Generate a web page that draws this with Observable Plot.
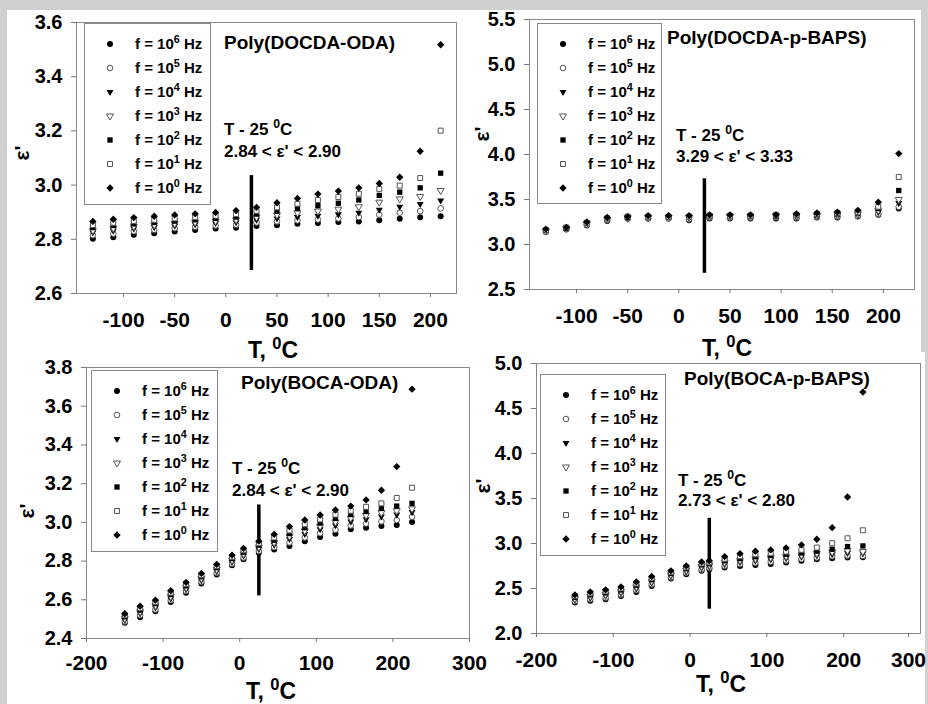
<!DOCTYPE html>
<html>
<head>
<meta charset="utf-8">
<script src="https://cdn.jsdelivr.net/npm/d3@7"></script>
<script src="https://cdn.jsdelivr.net/npm/@observablehq/plot@0.6"></script>
<style>
  body { margin: 0; }
  #root { position: relative; width: 928px; height: 704px; background: #d0d0d0; overflow: hidden;
          font-family: "Liberation Sans", Arial, sans-serif; font-weight: bold; color: #000; }
  .abs { position: absolute; white-space: nowrap; line-height: 1; }
  .legend { position: absolute; border: 1px solid #888; background: #fff; box-sizing: border-box; }
  .legend .row { position: absolute; font-size: 15px; line-height: 1; white-space: nowrap; }
  sup { font-size: 0.72em; vertical-align: 0; position: relative; top: -0.55em; }
  svg text { font-weight: bold; }
</style>
</head>
<body>
<div id="root">
  <div style="position:absolute;left:7px;top:10px;width:914px;height:342px;background:#fff"></div>
  <div style="position:absolute;left:7px;top:352px;width:918px;height:352px;background:#fff"></div>
</div>
<script>
// ---------------- DATA ----------------
const freqExp = [6, 5, 4, 3, 2, 1, 0];

// Panel 1: Poly(DOCDA-ODA)
const p1_title = "Poly(DOCDA-ODA)";
const p1_range = "2.84 < ε' < 2.90";
const p1_T = [-130, -110, -90, -70, -50, -30, -10, 10, 30, 50, 70, 90, 110, 130, 150, 170, 190, 210];
const p1_f6 = [2.802, 2.808, 2.817, 2.822, 2.829, 2.834, 2.840, 2.843, 2.849, 2.852, 2.857, 2.860, 2.864, 2.866, 2.870, 2.876, 2.881, 2.885];
const p1_f5 = [2.815, 2.821, 2.830, 2.835, 2.841, 2.846, 2.851, 2.854, 2.862, 2.866, 2.870, 2.873, 2.877, 2.882, 2.891, 2.898, 2.904, 2.914];
const p1_f4 = [2.825, 2.832, 2.840, 2.845, 2.850, 2.855, 2.860, 2.863, 2.872, 2.877, 2.882, 2.887, 2.892, 2.898, 2.909, 2.920, 2.930, 2.943];
const p1_f3 = [2.833, 2.841, 2.848, 2.853, 2.858, 2.863, 2.868, 2.872, 2.882, 2.890, 2.897, 2.904, 2.911, 2.920, 2.937, 2.949, 2.958, 2.980];
const p1_f2 = [2.843, 2.851, 2.857, 2.862, 2.867, 2.872, 2.877, 2.882, 2.893, 2.904, 2.914, 2.924, 2.933, 2.945, 2.962, 2.974, 2.990, 3.044];
const p1_f1 = [2.853, 2.861, 2.867, 2.872, 2.877, 2.882, 2.887, 2.893, 2.905, 2.918, 2.931, 2.945, 2.956, 2.968, 2.986, 2.998, 3.026, 3.201];
const p1_f0 = [2.866, 2.874, 2.880, 2.885, 2.890, 2.894, 2.899, 2.906, 2.918, 2.935, 2.951, 2.967, 2.978, 2.990, 3.006, 3.029, 3.125, 3.518];
const p1_rule = [25, 2.685, 3.035];
const p1_xTicks = [-100, -50, 0, 50, 100, 150, 200];
const p1_yTicks = [2.6, 2.8, 3.0, 3.2, 3.4, 3.6];

// Panel 2: Poly(DOCDA-p-BAPS)
const p2_title = "Poly(DOCDA-p-BAPS)";
const p2_range = "3.29 < ε' < 3.33";
const p2_T = [-130, -110, -90, -70, -50, -30, -10, 10, 30, 50, 70, 95, 115, 135, 155, 175, 195, 215];
const p2_f6 = [3.14, 3.17, 3.21, 3.26, 3.29, 3.29, 3.29, 3.27, 3.29, 3.29, 3.29, 3.29, 3.29, 3.30, 3.30, 3.31, 3.33, 3.40];
const p2_f5 = [3.14, 3.17, 3.22, 3.27, 3.29, 3.29, 3.29, 3.28, 3.30, 3.30, 3.30, 3.30, 3.30, 3.31, 3.31, 3.32, 3.34, 3.42];
const p2_f4 = [3.15, 3.18, 3.23, 3.28, 3.29, 3.30, 3.30, 3.30, 3.31, 3.31, 3.31, 3.31, 3.31, 3.32, 3.32, 3.33, 3.36, 3.46];
const p2_f3 = [3.15, 3.18, 3.23, 3.28, 3.30, 3.30, 3.30, 3.30, 3.31, 3.31, 3.31, 3.32, 3.32, 3.32, 3.33, 3.34, 3.38, 3.50];
const p2_f2 = [3.16, 3.18, 3.24, 3.29, 3.30, 3.31, 3.31, 3.31, 3.32, 3.32, 3.32, 3.32, 3.33, 3.33, 3.34, 3.35, 3.40, 3.60];
const p2_f1 = [3.16, 3.19, 3.24, 3.29, 3.31, 3.31, 3.31, 3.31, 3.32, 3.32, 3.32, 3.33, 3.33, 3.34, 3.35, 3.36, 3.42, 3.75];
const p2_f0 = [3.17, 3.19, 3.25, 3.30, 3.31, 3.32, 3.32, 3.32, 3.33, 3.33, 3.33, 3.33, 3.34, 3.35, 3.36, 3.38, 3.47, 4.01];
const p2_rule = [25, 2.68, 3.73];
const p2_xTicks = [-100, -50, 0, 50, 100, 150, 200];
const p2_yTicks = [2.5, 3.0, 3.5, 4.0, 4.5, 5.0, 5.5];

// Panel 3: Poly(BOCA-ODA)
const p3_title = "Poly(BOCA-ODA)";
const p3_range = "2.84 < ε' < 2.90";
const p3_T = [-150, -130, -110, -90, -70, -50, -30, -10, 5, 25, 45, 65, 85, 105, 125, 145, 165, 185, 205, 225];
const p3_f6 = [2.481, 2.510, 2.541, 2.588, 2.636, 2.684, 2.731, 2.778, 2.809, 2.843, 2.860, 2.878, 2.903, 2.924, 2.941, 2.964, 2.972, 2.981, 2.986, 3.002];
const p3_f5 = [2.488, 2.520, 2.550, 2.598, 2.645, 2.693, 2.740, 2.786, 2.818, 2.852, 2.872, 2.896, 2.922, 2.944, 2.962, 2.984, 2.994, 3.005, 3.012, 3.029];
const p3_f4 = [2.496, 2.529, 2.560, 2.607, 2.654, 2.701, 2.748, 2.795, 2.828, 2.862, 2.884, 2.914, 2.940, 2.964, 2.985, 3.004, 3.016, 3.030, 3.040, 3.053];
const p3_f3 = [2.504, 2.538, 2.570, 2.617, 2.663, 2.710, 2.757, 2.804, 2.837, 2.872, 2.896, 2.928, 2.956, 2.980, 3.002, 3.022, 3.036, 3.050, 3.060, 3.070];
const p3_f2 = [2.512, 2.547, 2.580, 2.627, 2.672, 2.719, 2.766, 2.813, 2.846, 2.882, 2.908, 2.942, 2.972, 2.996, 3.020, 3.040, 3.056, 3.072, 3.084, 3.098];
const p3_f1 = [2.520, 2.557, 2.589, 2.637, 2.681, 2.727, 2.774, 2.822, 2.856, 2.892, 2.922, 2.958, 2.990, 3.015, 3.040, 3.060, 3.080, 3.098, 3.126, 3.179];
const p3_f0 = [2.528, 2.567, 2.598, 2.647, 2.690, 2.736, 2.783, 2.831, 2.866, 2.903, 2.938, 2.978, 3.012, 3.038, 3.064, 3.084, 3.116, 3.166, 3.288, 3.688];
const p3_rule = [25, 2.62, 3.09];
const p3_xTicks = [-200, -100, 0, 100, 200, 300];
const p3_yTicks = [2.4, 2.6, 2.8, 3.0, 3.2, 3.4, 3.6, 3.8];

// Panel 4: Poly(BOCA-p-BAPS)
const p4_title = "Poly(BOCA-p-BAPS)";
const p4_range = "2.73 < ε' < 2.80";
const p4_T = [-150, -130, -110, -90, -70, -50, -25, -5, 15, 25, 45, 65, 85, 105, 125, 145, 165, 185, 205, 225];
const p4_f6 = [2.344, 2.363, 2.381, 2.418, 2.462, 2.529, 2.610, 2.659, 2.696, 2.714, 2.733, 2.751, 2.762, 2.773, 2.788, 2.807, 2.825, 2.836, 2.844, 2.847];
const p4_f5 = [2.358, 2.380, 2.398, 2.434, 2.481, 2.546, 2.624, 2.675, 2.712, 2.730, 2.752, 2.771, 2.785, 2.797, 2.812, 2.828, 2.845, 2.858, 2.868, 2.862];
const p4_f4 = [2.372, 2.396, 2.416, 2.451, 2.499, 2.564, 2.638, 2.690, 2.729, 2.745, 2.770, 2.792, 2.810, 2.822, 2.837, 2.852, 2.868, 2.880, 2.895, 2.890];
const p4_f3 = [2.387, 2.413, 2.433, 2.468, 2.518, 2.581, 2.653, 2.705, 2.745, 2.760, 2.790, 2.812, 2.831, 2.843, 2.857, 2.872, 2.890, 2.905, 2.920, 2.910];
const p4_f2 = [2.401, 2.429, 2.451, 2.484, 2.536, 2.598, 2.667, 2.720, 2.762, 2.775, 2.808, 2.833, 2.853, 2.866, 2.880, 2.895, 2.915, 2.936, 2.966, 2.973];
const p4_f1 = [2.415, 2.446, 2.468, 2.501, 2.555, 2.616, 2.681, 2.735, 2.778, 2.790, 2.830, 2.858, 2.880, 2.893, 2.910, 2.930, 2.955, 3.003, 3.058, 3.147];
const p4_f0 = [2.429, 2.462, 2.485, 2.518, 2.573, 2.633, 2.696, 2.751, 2.795, 2.807, 2.855, 2.888, 2.914, 2.929, 2.951, 2.984, 3.047, 3.176, 3.517, 4.682];
const p4_rule = [25, 2.27, 3.28];
const p4_xTicks = [-200, -100, 0, 100, 200];
const p4_xEdgeTicks = [300];
const p4_yTicks = [2.0, 2.5, 3.0, 3.5, 4.0, 4.5, 5.0];

// ---------------- STYLE ----------------
const diamond = d3.symbolDiamond2 || d3.symbolDiamond;
// order: 10^6 ... 10^0
const styles = [
  {symbol: "circle",   r: 3.0, fill: "#000", stroke: "none", rotate: 0, d3s: d3.symbolCircle},
  {symbol: "circle",   r: 2.8, fill: "#fff", stroke: "#555", rotate: 0, d3s: d3.symbolCircle},
  {symbol: "triangle", r: 2.6, fill: "#000", stroke: "none", rotate: 180, d3s: d3.symbolTriangle},
  {symbol: "triangle", r: 2.6, fill: "#fff", stroke: "#555", rotate: 180, d3s: d3.symbolTriangle},
  {symbol: "square",   r: 3.0, fill: "#000", stroke: "none", rotate: 0, d3s: d3.symbolSquare},
  {symbol: "square",   r: 2.8, fill: "#fff", stroke: "#555", rotate: 0, d3s: d3.symbolSquare},
  {symbol: diamond,    r: 3.3, fill: "#000", stroke: "none", rotate: 0, d3s: diamond}
];

const root = document.getElementById("root");
const hyphenFmt = d => String(d);
const oneDec = d => d.toFixed(1);

function addAbs(html, left, top, fontSize, extra = "") {
  const d = document.createElement("div");
  d.className = "abs";
  d.style.cssText = `left:${left}px;top:${top}px;font-size:${fontSize}px;${extra}`;
  d.innerHTML = html;
  root.appendChild(d);
  return d;
}

function legend(left, top, w, h) {
  const box = document.createElement("div");
  box.className = "legend";
  box.style.cssText = `left:${left}px;top:${top}px;width:${w}px;height:${h}px;`;
  freqExp.forEach((e, i) => {
    const st = styles[i];
    const cy = 20 + i * 24;
    const size = Math.PI * st.r * st.r;
    const path = d3.symbol().type(st.d3s).size(size)();
    const svg = `<svg width="14" height="14" style="position:absolute;left:${25 - 7}px;top:${cy - 7}px;overflow:visible">
      <path d="${path}" transform="translate(7,7) rotate(${st.rotate})" fill="${st.fill}" stroke="${st.stroke}" stroke-width="1"></path></svg>`;
    box.insertAdjacentHTML("beforeend", svg);
    const row = document.createElement("div");
    row.className = "row";
    row.style.cssText = `left:50px;top:${cy - 8}px;`;
    row.innerHTML = `f = 10<sup>${e}</sup> Hz`;
    box.appendChild(row);
  });
  root.appendChild(box);
}

function panel(cfg) {
  const series = [cfg.f6, cfg.f5, cfg.f4, cfg.f3, cfg.f2, cfg.f1, cfg.f0];
  const axisOpts = {tickSize: 4, tickPadding: cfg.xPad, fontSize: 21, stroke: "#777", fill: "#000", tickFormat: hyphenFmt, label: null};
  const marks = [
    Plot.frame({stroke: "#888"}),
    Plot.axisX({...axisOpts, ticks: cfg.xTicks}),
    Plot.axisY({ticks: cfg.yTicks, tickSize: 5, tickPadding: 9, fontSize: 20, stroke: "#777", fill: "#000", tickFormat: oneDec, label: null}),
    Plot.ruleX([{T: cfg.rule[0], lo: cfg.rule[1], hi: cfg.rule[2]}], {x: "T", y1: "lo", y2: "hi", stroke: "#000", strokeWidth: 3.5})
  ];
  if (cfg.xEdgeTicks) marks.push(Plot.axisX({...axisOpts, ticks: cfg.xEdgeTicks, dx: -12}));
  series.forEach((arr, i) => {
    const st = styles[i];
    const data = cfg.T.map((t, j) => ({T: t, e: arr[j]}));
    marks.push(Plot.dot(data, {x: "T", y: "e", symbol: st.symbol, r: st.r, fill: st.fill,
      stroke: st.stroke, strokeWidth: 1, rotate: st.rotate}));
  });
  const chart = Plot.plot({
    width: cfg.width, height: cfg.height,
    marginLeft: cfg.ml, marginRight: cfg.mr, marginTop: cfg.mt, marginBottom: cfg.mb,
    x: {domain: cfg.xDomain, label: null},
    y: {domain: cfg.yDomain, label: null},
    style: {fontFamily: "'Liberation Sans', Arial, sans-serif", fontWeight: "bold", background: "transparent", overflow: "visible", color: "#000"},
    marks
  });
  chart.style.position = "absolute";
  chart.style.left = cfg.left + "px";
  chart.style.top = cfg.top + "px";
  root.appendChild(chart);
}

// Panel placements
panel({T: p1_T, f6: p1_f6, f5: p1_f5, f4: p1_f4, f3: p1_f3, f2: p1_f2, f1: p1_f1, f0: p1_f0,
  rule: p1_rule, xTicks: p1_xTicks, yTicks: p1_yTicks, xDomain: [-146, 225.5], yDomain: [2.6, 3.6],
  left: 0, top: 0, width: 464, height: 352, ml: 76, mr: 8, mt: 22, mb: 59, xPad: 15});
panel({T: p2_T, f6: p2_f6, f5: p2_f5, f4: p2_f4, f3: p2_f3, f2: p2_f2, f1: p2_f1, f0: p2_f0,
  rule: p2_rule, xTicks: p2_xTicks, yTicks: p2_yTicks, xDomain: [-146, 230.4], yDomain: [2.5, 5.5],
  left: 464, top: 0, width: 464, height: 352, ml: 65, mr: 14, mt: 19, mb: 63, xPad: 15});
panel({T: p3_T, f6: p3_f6, f5: p3_f5, f4: p3_f4, f3: p3_f3, f2: p3_f2, f1: p3_f1, f0: p3_f0,
  rule: p3_rule, xTicks: p3_xTicks, yTicks: p3_yTicks, xDomain: [-200, 300], yDomain: [2.4, 3.8],
  left: 0, top: 352, width: 480, height: 352, ml: 86, mr: 11, mt: 15, mb: 66, xPad: 13});
panel({T: p4_T, f6: p4_f6, f5: p4_f5, f4: p4_f4, f3: p4_f3, f2: p4_f2, f1: p4_f1, f0: p4_f0,
  rule: p4_rule, xTicks: p4_xTicks, xEdgeTicks: p4_xEdgeTicks, yTicks: p4_yTicks, xDomain: [-200, 300], yDomain: [2.0, 5.0],
  left: 464, top: 352, width: 464, height: 352, ml: 72, mr: 8, mt: 11, mb: 71, xPad: 15});

// Legends
legend(84, 23, 127, 182);
legend(537, 23, 125, 181);
legend(91, 370, 127, 182);
legend(540, 374, 126, 182);

// Titles
addAbs(p1_title, 224, 33, 19);
addAbs(p2_title, 667, 28, 19);
addAbs(p3_title, 241, 373, 19);
addAbs(p4_title, 684, 369, 19);

// Annotations
const tLine = "T - 25 <sup>0</sup>C";
addAbs(tLine, 224, 121, 17); addAbs(p1_range, 224, 142.5, 17);
addAbs(tLine, 676, 127, 17); addAbs(p2_range, 676, 147.5, 17);
addAbs(tLine, 232, 460, 17); addAbs(p3_range, 232, 481.5, 17);
addAbs(tLine, 678, 471.5, 17); addAbs(p4_range, 678, 491.5, 17);

// Axis titles
const xLab = "T, <sup>0</sup>C";
addAbs(xLab, 248, 339, 23);
addAbs(xLab, 702, 337, 23);
addAbs(xLab, 246, 680, 23);
addAbs(xLab, 696, 673, 23);

function yLab(cx, cy) {
  addAbs("ε'", cx, cy, 21, "transform:translate(-50%,-50%) rotate(-90deg);transform-origin:center;");
}
yLab(21, 153);
yLab(481, 134);
yLab(26, 511);
yLab(482, 486);
</script>
</body>
</html>
